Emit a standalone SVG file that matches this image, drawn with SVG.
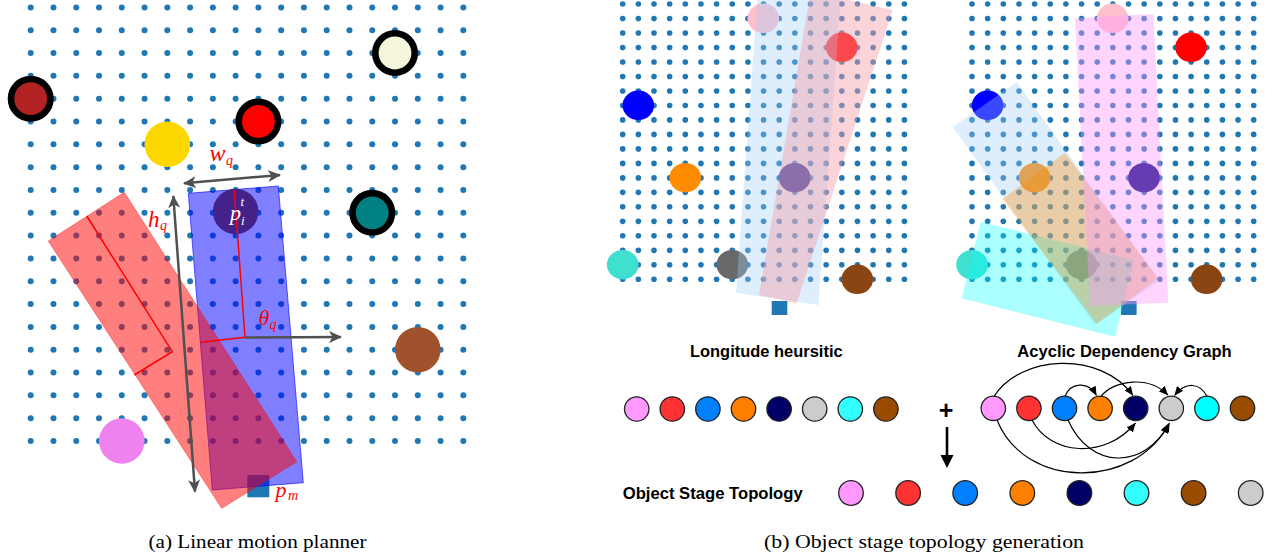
<svg xmlns="http://www.w3.org/2000/svg" width="1284" height="556" viewBox="0 0 1284 556">
<style>
.lbl{font-family:"Liberation Sans",Arial,sans-serif;font-weight:bold;font-size:16.5px;fill:#000}
.cap{font-family:"Liberation Serif","Times New Roman",serif;font-size:19px;fill:#000}
.math{font-family:"Liberation Serif","Times New Roman",serif;font-style:italic;fill:#ff0000}
.ring{stroke:#000;stroke-width:6.6}
.gar{stroke:#505050;stroke-width:2.5;fill:none;marker-end:url(#ga);marker-start:url(#ga)}
.arc{stroke:#000;stroke-width:1.2;fill:none;marker-end:url(#ah)}
.nd{stroke:#222;stroke-width:1.3}
</style>
<defs>
<marker id="ga" markerUnits="userSpaceOnUse" markerWidth="14" markerHeight="12" refX="12" refY="6" orient="auto-start-reverse"><path d="M0,0 L13,6 L0,12 L3.5,6 z" fill="#505050"/></marker>
<marker id="ah" markerUnits="userSpaceOnUse" markerWidth="10" markerHeight="8" refX="9" refY="4" orient="auto"><path d="M0,0 L9,4 L0,8 z" fill="#000"/></marker>
<g id="rowL" fill="#1f77b4">
<circle cx="30.7" cy="0" r="3"/><circle cx="53.47" cy="0" r="3"/><circle cx="76.24" cy="0" r="3"/><circle cx="99.01" cy="0" r="3"/><circle cx="121.78" cy="0" r="3"/><circle cx="144.55" cy="0" r="3"/><circle cx="167.32" cy="0" r="3"/><circle cx="190.09" cy="0" r="3"/><circle cx="212.86" cy="0" r="3"/><circle cx="235.63" cy="0" r="3"/><circle cx="258.4" cy="0" r="3"/><circle cx="281.17" cy="0" r="3"/><circle cx="303.94" cy="0" r="3"/><circle cx="326.71" cy="0" r="3"/><circle cx="349.48" cy="0" r="3"/><circle cx="372.25" cy="0" r="3"/><circle cx="395.02" cy="0" r="3"/><circle cx="417.79" cy="0" r="3"/><circle cx="440.56" cy="0" r="3"/><circle cx="463.33" cy="0" r="3"/>
</g>
<g id="rowR" fill="#1f77b4">
<circle cx="622.7" cy="0" r="2.8"/><circle cx="638.35" cy="0" r="2.8"/><circle cx="654" cy="0" r="2.8"/><circle cx="669.65" cy="0" r="2.8"/><circle cx="685.3" cy="0" r="2.8"/><circle cx="700.95" cy="0" r="2.8"/><circle cx="716.6" cy="0" r="2.8"/><circle cx="732.25" cy="0" r="2.8"/><circle cx="747.9" cy="0" r="2.8"/><circle cx="763.55" cy="0" r="2.8"/><circle cx="779.2" cy="0" r="2.8"/><circle cx="794.85" cy="0" r="2.8"/><circle cx="810.5" cy="0" r="2.8"/><circle cx="826.15" cy="0" r="2.8"/><circle cx="841.8" cy="0" r="2.8"/><circle cx="857.45" cy="0" r="2.8"/><circle cx="873.1" cy="0" r="2.8"/><circle cx="888.75" cy="0" r="2.8"/><circle cx="904.4" cy="0" r="2.8"/>
</g>
<g id="gridL">
<use href="#rowL" y="7.4"/><use href="#rowL" y="30.22"/><use href="#rowL" y="53.04"/><use href="#rowL" y="75.86"/><use href="#rowL" y="98.68"/><use href="#rowL" y="121.5"/><use href="#rowL" y="144.32"/><use href="#rowL" y="167.14"/><use href="#rowL" y="189.96"/><use href="#rowL" y="212.78"/><use href="#rowL" y="235.6"/><use href="#rowL" y="258.42"/><use href="#rowL" y="281.24"/><use href="#rowL" y="304.06"/><use href="#rowL" y="326.88"/><use href="#rowL" y="349.7"/><use href="#rowL" y="372.52"/><use href="#rowL" y="395.34"/><use href="#rowL" y="418.16"/><use href="#rowL" y="440.98"/>
</g>
<g id="gridR">
<use href="#rowR" y="4"/><use href="#rowR" y="18.49"/><use href="#rowR" y="32.98"/><use href="#rowR" y="47.47"/><use href="#rowR" y="61.96"/><use href="#rowR" y="76.45"/><use href="#rowR" y="90.94"/><use href="#rowR" y="105.43"/><use href="#rowR" y="119.92"/><use href="#rowR" y="134.41"/><use href="#rowR" y="148.9"/><use href="#rowR" y="163.39"/><use href="#rowR" y="177.88"/><use href="#rowR" y="192.37"/><use href="#rowR" y="206.86"/><use href="#rowR" y="221.35"/><use href="#rowR" y="235.84"/><use href="#rowR" y="250.33"/><use href="#rowR" y="264.82"/><use href="#rowR" y="279.31"/>
</g>
</defs>
<rect x="0" y="0" width="1284" height="556" fill="#fff"/>

<!-- (a) Linear motion planner -->
<g id="panel-a">
<use href="#gridL"/>
<circle cx="30.7" cy="98.7" r="19.7" fill="#b22222" class="ring"/>
<circle cx="167.3" cy="144.3" r="22.8" fill="#ffd700"/>
<circle cx="258.4" cy="121.5" r="19.7" fill="#ff0000" class="ring"/>
<circle cx="395" cy="53" r="19.7" fill="#f5f5dc" class="ring"/>
<circle cx="372.25" cy="212.8" r="19.7" fill="#008080" class="ring"/>
<circle cx="417.8" cy="349.7" r="22.8" fill="#a0522d"/>
<circle cx="121.8" cy="441" r="22.8" fill="#ee82ee"/>
<rect x="247.3" y="475" width="22" height="22.3" fill="#1f77b4"/>
<polygon points="188.3,193.3 278.3,186 303.3,482.7 212.3,490" fill="#0000ff" fill-opacity="0.5" stroke="#0000ff" stroke-opacity="0.6" stroke-width="1"/>
<polygon points="124.3,192.3 296.7,461.7 221.7,508.3 48.3,241" fill="#ff0000" fill-opacity="0.5" stroke="#ff0000" stroke-opacity="0.4" stroke-width="1"/>
<circle cx="235.6" cy="211.5" r="22.8" fill="#44228a"/>
<polyline points="234.3,190 245,337.3 200.7,342.3" fill="none" stroke="#ff0000" stroke-width="1.5"/>
<polyline points="86.7,216 172.3,351.7 134.3,375" fill="none" stroke="#ff0000" stroke-width="1.5"/>
</g>
<g id="connectors-a">
<line x1="245" y1="337.5" x2="341" y2="337" stroke="#505050" stroke-width="2.5" marker-end="url(#ga)"/>
<line x1="173.3" y1="196" x2="195" y2="491.7" class="gar"/>
<line x1="184" y1="183.3" x2="280" y2="175" class="gar"/>
</g>
<g id="labels-a">
<text class="math" x="209.5" y="161" font-size="24">w</text><text class="math" x="226" y="165" font-size="14">q</text>
<text class="math" x="148" y="226.5" font-size="23">h</text><text class="math" x="160" y="230" font-size="14">q</text>
<text class="math" x="258.5" y="324.5" font-size="22">θ</text><text class="math" x="269.5" y="328.5" font-size="14">q</text>
<text class="math" x="230" y="220" font-size="22" style="fill:#fff">p</text><text class="math" x="240.5" y="206" font-size="13" style="fill:#fff">t</text><text class="math" x="241" y="224.5" font-size="13" style="fill:#fff">i</text>
<text class="math" x="275.5" y="496.5" font-size="22">p</text><text class="math" x="288" y="500" font-size="14">m</text>
</g>
<text class="cap" x="257.5" y="548" text-anchor="middle" textLength="218" lengthAdjust="spacingAndGlyphs">(a) Linear motion planner</text>

<!-- (b) panel 1: Longitude heuristic -->
<g id="panel-b1">
<use href="#gridR"/>
<ellipse cx="763.3" cy="18.3" rx="15.8" ry="14.7" fill="#ffc0cb"/>
<ellipse cx="841.7" cy="47.3" rx="15.8" ry="14.7" fill="#ff0000"/>
<ellipse cx="638.3" cy="105.3" rx="15.8" ry="14.7" fill="#0000ff"/>
<ellipse cx="685.3" cy="177.7" rx="15.8" ry="14.7" fill="#ff8c00"/>
<ellipse cx="794.7" cy="177.7" rx="15.8" ry="14.7" fill="#000080"/>
<ellipse cx="622.7" cy="264.7" rx="15.8" ry="14.7" fill="#40e0d0"/>
<ellipse cx="732.3" cy="264.7" rx="15.8" ry="14.7" fill="#696969"/>
<ellipse cx="857.3" cy="279.3" rx="15.8" ry="14.7" fill="#8b4513"/>
<rect x="771.7" y="301" width="15.6" height="14" fill="#1f77b4"/>
<polygon points="736,292.7 757.3,0 840.6,0 818.3,305" fill="#a0cdfa" fill-opacity="0.35"/>
<polygon points="759,295 809.3,0 848,0 892.7,10 796.7,303.3" fill="#f5a0aa" fill-opacity="0.45"/>
</g>
<text class="lbl" x="766.3" y="356.5" text-anchor="middle" textLength="152.7" lengthAdjust="spacingAndGlyphs">Longitude heursitic</text>

<!-- (b) panel 2: Acyclic dependency graph -->
<g id="panel-b2">
<use href="#gridR" x="349.3"/>
<ellipse cx="1112.6" cy="18.3" rx="15.8" ry="14.7" fill="#ffc0cb"/>
<ellipse cx="1191" cy="47.3" rx="15.8" ry="14.7" fill="#ff0000"/>
<ellipse cx="987.6" cy="105.3" rx="15.8" ry="14.7" fill="#0000ff"/>
<ellipse cx="1034.6" cy="177.7" rx="15.8" ry="14.7" fill="#ff8c00"/>
<ellipse cx="1144" cy="177.7" rx="15.8" ry="14.7" fill="#000080"/>
<ellipse cx="972" cy="264.7" rx="15.8" ry="14.7" fill="#40e0d0"/>
<ellipse cx="1081.6" cy="264.7" rx="15.8" ry="14.7" fill="#696969"/>
<ellipse cx="1206.6" cy="279.3" rx="15.8" ry="14.7" fill="#8b4513"/>
<rect x="1121" y="301" width="15.6" height="14" fill="#1f77b4"/>
<polygon points="952.7,126.7 1016.7,82.3 1159,280.7 1095,325" fill="#a0cdfa" fill-opacity="0.35"/>
<polygon points="980.7,221.7 1134,260 1115,336.7 961.7,298.3" fill="#00ffff" fill-opacity="0.33"/>
<polygon points="1065,152.7 1158.3,278.3 1096.7,324 1002.3,199" fill="#ff8c00" fill-opacity="0.33"/>
<polygon points="1075,18.3 1153.3,14 1168.3,302.7 1090,306" fill="#ff96ff" fill-opacity="0.4"/>
</g>
<text class="lbl" x="1124.5" y="356.5" text-anchor="middle" textLength="214.3" lengthAdjust="spacingAndGlyphs">Acyclic Dependency Graph</text>

<!-- longitude order row -->
<g id="row-longitude">
<circle class="nd" cx="636.7" cy="409" r="12.2" fill="#ff99ff"/>
<circle class="nd" cx="672.3" cy="409" r="12.2" fill="#ff3333"/>
<circle class="nd" cx="707.9" cy="409" r="12.2" fill="#0080ff"/>
<circle class="nd" cx="743.5" cy="409" r="12.2" fill="#ff8000"/>
<circle class="nd" cx="779.1" cy="409" r="12.2" fill="#000066"/>
<circle class="nd" cx="814.7" cy="409" r="12.2" fill="#cccccc"/>
<circle class="nd" cx="850.3" cy="409" r="12.2" fill="#33ffff"/>
<circle class="nd" cx="885.9" cy="409" r="12.2" fill="#994c00"/>
</g>
<text class="lbl" x="946" y="418.5" text-anchor="middle" style="font-size:25px">+</text>

<!-- dependency graph nodes -->
<g id="dag-nodes">
<circle id="d-pink" class="nd" cx="993.3" cy="408.3" r="12.2" fill="#ff99ff"/>
<circle id="d-red" class="nd" cx="1028.9" cy="408.3" r="12.2" fill="#ff3333"/>
<circle id="d-blue" class="nd" cx="1064.5" cy="408.3" r="12.2" fill="#0080ff"/>
<circle id="d-orange" class="nd" cx="1100.1" cy="408.3" r="12.2" fill="#ff8000"/>
<circle id="d-navy" class="nd" cx="1135.7" cy="408.3" r="12.2" fill="#000066"/>
<circle id="d-gray" class="nd" cx="1171.3" cy="408.3" r="12.2" fill="#cccccc"/>
<circle id="d-cyan" class="nd" cx="1206.9" cy="408.3" r="12.2" fill="#00ffff"/>
<circle id="d-brown" class="nd" cx="1242.5" cy="408.3" r="12.2" fill="#994c00"/>
</g>
<g id="dag-edges">
<path class="arc" d="M994,396.5 C1020,355 1100,350 1133,395.5"/>
<path class="arc" d="M1065,396.3 C1070,383 1088,380 1096.5,395.5"/>
<path class="arc" d="M1101,396.3 C1115,379 1150,376 1168,395.2"/>
<path class="arc" d="M1207,396.3 C1200,383 1186,381 1174.5,395.5"/>
<path class="arc" d="M997,420 C1025,490 1135,490 1169.5,423"/>
<path class="arc" d="M1032,420 C1050,455 1105,460 1135.5,423"/>
<path class="arc" d="M1068,420 C1090,470 1145,470 1168.5,424"/>
</g>
<g id="down-arrow">
<line x1="947" y1="427" x2="947" y2="457" stroke="#000" stroke-width="2.6"/>
<polygon points="940.5,455 953.5,455 947,468" fill="#000"/>
</g>

<!-- resulting topology -->
<text class="lbl" x="712.7" y="499" text-anchor="middle" textLength="180" lengthAdjust="spacingAndGlyphs">Object Stage Topology</text>
<g id="row-topology">
<circle class="nd" cx="851" cy="493" r="12.3" fill="#ff99ff"/>
<circle class="nd" cx="908.1" cy="493" r="12.3" fill="#ff3333"/>
<circle class="nd" cx="965.2" cy="493" r="12.3" fill="#0080ff"/>
<circle class="nd" cx="1022.3" cy="493" r="12.3" fill="#ff8000"/>
<circle class="nd" cx="1079.4" cy="493" r="12.3" fill="#000066"/>
<circle class="nd" cx="1136.5" cy="493" r="12.3" fill="#33ffff"/>
<circle class="nd" cx="1193.6" cy="493" r="12.3" fill="#994c00"/>
<circle class="nd" cx="1250.7" cy="493" r="12.3" fill="#cccccc"/>
</g>
<text class="cap" x="924" y="548" text-anchor="middle" textLength="320" lengthAdjust="spacingAndGlyphs">(b) Object stage topology generation</text>
</svg>
